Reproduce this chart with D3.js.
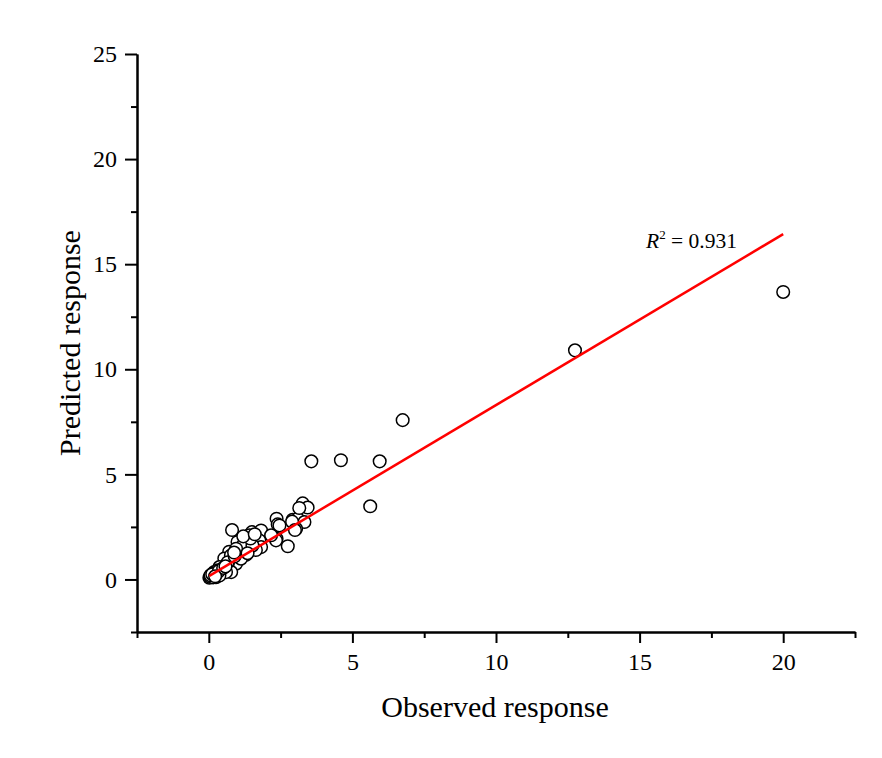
<!DOCTYPE html>
<html>
<head>
<meta charset="utf-8">
<script src="https://cdn.jsdelivr.net/npm/d3@7"></script>
<style>
  body { margin: 0; background: #fff; }
  text { font-family: "Liberation Serif", "Times New Roman", serif; }
</style>
</head>
<body>
<div id="chart"></div>
<script>
// observed / predicted pairs
const observed = [
  20.0, 12.75, 6.75, 5.95, 4.6, 3.57, 5.62, 3.27, 3.44, 2.92,
  3.1, 3.33, 3.04, 2.36, 2.4, 2.46, 2.75, 2.36, 2.34, 0.81,
  1.5, 1.82, 1.41, 1.76, 2.17, 1.24, 1.0, 1.3, 1.82, 1.64,
  0.71, 1.06, 1.3, 0.83, 0.54, 0.95, 0.66, 0.37, 0.48, 0.19,
  0.08, 0.25, 0.43, 0.78, 0.02, 1.18, 1.52, 0.95, 0.77, 1.12,
  0.66, 0.6, 0.31, 0.13, 0.37, 0.05, 0.1, 0.15, 0.2, 0.28,
  0.06, 0.12, 0.35, 0.5, 0.22, 0.9, 1.45, 3.15, 2.9, 3.0,
  1.2, 1.6, 1.35, 0.58, 0.88
];
const predicted = [
  13.68, 10.9, 7.58, 5.62, 5.67, 5.62, 3.48, 3.62, 3.42, 2.84,
  2.89, 2.73, 2.41, 2.89, 2.62, 2.57, 1.58, 1.94, 1.86, 2.35,
  2.25, 2.33, 2.1, 1.86, 2.1, 1.86, 1.78, 1.54, 1.54, 1.4,
  1.32, 1.24, 1.17, 0.9, 1.0, 0.75, 0.75, 0.59, 0.43, 0.35,
  0.14, 0.11, 0.27, 0.35, 0.08, 1.62, 1.62, 1.46, 1.14, 0.99,
  0.82, 0.35, 0.43, 0.27, 0.19, 0.12, 0.18, 0.1, 0.22, 0.3,
  0.2, 0.25, 0.4, 0.55, 0.15, 1.1, 1.95, 3.4, 2.75, 2.35,
  2.05, 2.15, 1.25, 0.62, 1.28
];
const xTicks = [0, 5, 10, 15, 20];
const yTicks = [0, 5, 10, 15, 20, 25];
const fitSlope = 0.8136;
const fitIntercept = 0.157;
const r2Label = '0.931';

const W = 882, H = 758;
const MARGIN = {TOP: 54, RIGHT: 27, BOTTOM: 126, LEFT: 137};

const svg = d3.select('#chart').append('svg')
  .attr('width', W).attr('height', H);

const x = d3.scaleLinear().domain([-2.5, 22.5]).range([MARGIN.LEFT, W - MARGIN.RIGHT]);
const y = d3.scaleLinear().domain([-2.5, 25]).range([H - MARGIN.BOTTOM, MARGIN.TOP]);

const minorX = d3.range(-2.5, 23, 5);
const minorY = d3.range(-2.5, 25, 5);

function styleAxis(g) {
  g.selectAll('path, line').attr('stroke', '#000').attr('stroke-width', 2);
  g.selectAll('text').attr('font-size', 24).attr('fill', '#000')
    .attr('font-family', '"Liberation Serif", "Times New Roman", serif');
}

// x axis
svg.append('g')
  .attr('transform', `translate(0,${y(-2.5)})`)
  .call(d3.axisBottom(x).tickValues(minorX).tickSize(6).tickSizeOuter(0).tickFormat(''))
  .call(styleAxis);
svg.append('g')
  .attr('transform', `translate(0,${y(-2.5)})`)
  .call(d3.axisBottom(x).tickValues(xTicks).tickSize(11).tickSizeOuter(0).tickPadding(10))
  .call(styleAxis);

// y axis
svg.append('g')
  .attr('transform', `translate(${x(-2.5)},0)`)
  .call(d3.axisLeft(y).tickValues(minorY).tickSize(6).tickSizeOuter(0).tickFormat(''))
  .call(styleAxis);
svg.append('g')
  .attr('transform', `translate(${x(-2.5)},0)`)
  .call(d3.axisLeft(y).tickValues(yTicks).tickSize(12).tickSizeOuter(0).tickPadding(8))
  .call(styleAxis);

// axis titles
svg.append('text')
  .attr('x', 495).attr('y', 717)
  .attr('text-anchor', 'middle')
  .attr('font-size', 30)
  .text('Observed response');

svg.append('text')
  .attr('transform', `translate(80,${343}) rotate(-90)`)
  .attr('text-anchor', 'middle')
  .attr('font-size', 30)
  .text('Predicted response');

// points
const pts = observed.map((o, i) => ({o: o, p: predicted[i]}));
svg.append('g').selectAll('circle')
  .data(pts)
  .enter().append('circle')
    .attr('cx', d => x(d.o))
    .attr('cy', d => y(d.p))
    .attr('r', 6.3)
    .attr('fill', '#fff')
    .attr('stroke', '#000')
    .attr('stroke-width', 1.5);

// fit line over the data range
const xMin = d3.min(observed), xMax = d3.max(observed);
svg.append('line')
  .attr('x1', x(xMin)).attr('y1', y(fitIntercept + fitSlope * xMin))
  .attr('x2', x(xMax)).attr('y2', y(fitIntercept + fitSlope * xMax))
  .attr('stroke', '#ff0000')
  .attr('stroke-width', 2.5);

// R^2 label
const lbl = svg.append('text')
  .attr('x', 646).attr('y', 248)
  .attr('font-size', 21.5);
lbl.append('tspan').attr('font-style', 'italic').text('R');
lbl.append('tspan').attr('dy', -9).attr('font-size', 13).text('2');
lbl.append('tspan').attr('dy', 9).text(' = ' + r2Label);
</script>
</body>
</html>
